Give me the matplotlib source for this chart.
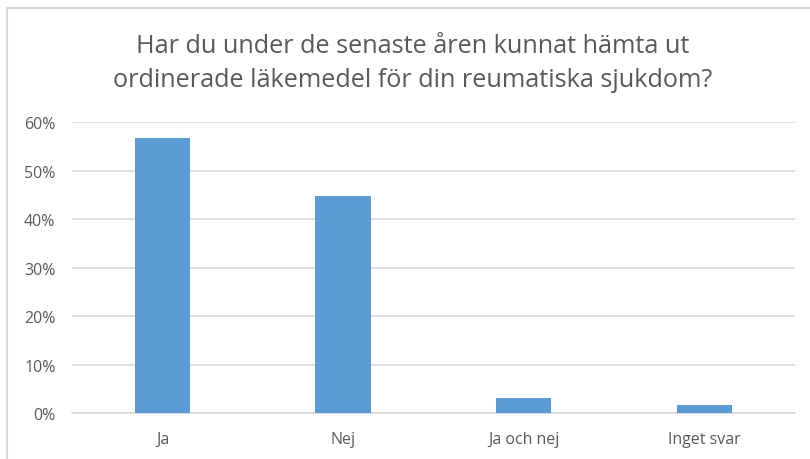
import matplotlib.pyplot as plt
import matplotlib.patches as patches
from matplotlib.ticker import PercentFormatter

categories = ['Ja', 'Nej', 'Ja och nej', 'Inget svar']
values = [0.567, 0.447, 0.031, 0.017]
yticks = [0, 0.1, 0.2, 0.3, 0.4, 0.5, 0.6]
title = 'Har du under de senaste åren kunnat hämta ut\nordinerade läkemedel för din reumatiska sjukdom?'

plt.rcParams['font.family'] = ['Open Sans', 'DejaVu Sans']
grey = '#595959'

fig = plt.figure(figsize=(8.1, 4.6), dpi=100)
ax = fig.add_axes([0.089, 0.1, 0.892, 0.6326])

x = range(len(categories))
ax.bar(x, values, width=0.305, color='#5b9bd5', zorder=3)
ax.set_xlim(-0.5, len(categories) - 0.5)
ax.set_ylim(0, 0.6)
ax.set_yticks(yticks)
ax.yaxis.set_major_formatter(PercentFormatter(1.0, decimals=0))
ax.set_xticks(list(x))
ax.set_xticklabels(categories)
ax.grid(axis='y', color='#d9d9d9', linewidth=1.2, zorder=0)
for s in ['top', 'right', 'left']:
    ax.spines[s].set_visible(False)
ax.spines['bottom'].set_color('#d9d9d9')
ax.spines['bottom'].set_linewidth(1.2)
ax.tick_params(length=0, labelsize=11.5, labelcolor=grey, pad=13)
ax.tick_params(axis='y', pad=12)

fig.text(0.509, 0.862, title, ha='center', va='center', fontsize=18.2,
         color=grey, linespacing=1.5)

# chart border (only top and left edges visible)
fig.add_artist(patches.Rectangle((7 / 810, -0.1), 1.1, 1 - 9 / 460 + 0.1,
                                 transform=fig.transFigure, fill=False,
                                 edgecolor='#d9d9d9', linewidth=1.5))

fig.savefig('out.png', dpi=100)
